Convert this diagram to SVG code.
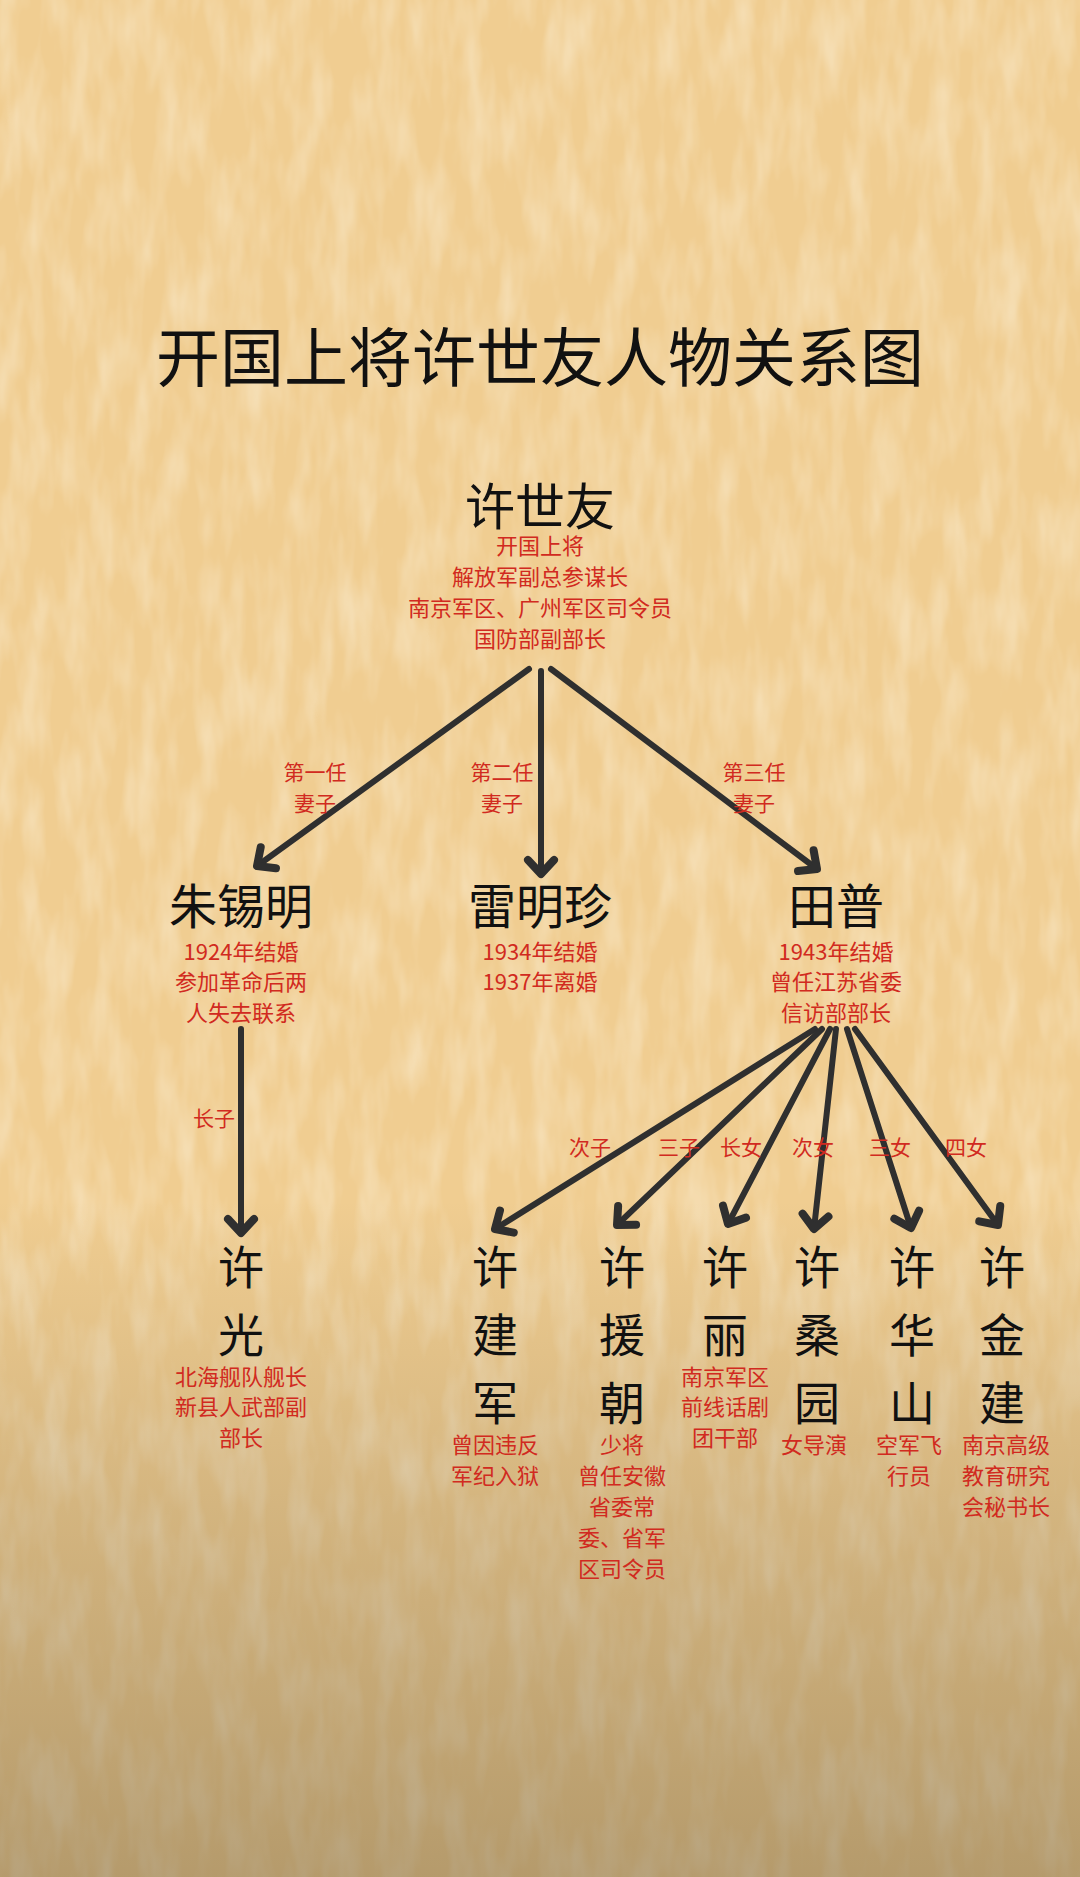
<svg xmlns="http://www.w3.org/2000/svg" width="1080" height="1877" viewBox="0 0 1080 1877">
<defs>
<style>
.title{font-family:"Noto Sans CJK SC","Noto Sans",sans-serif;font-size:64px;font-weight:400;fill:#111;text-anchor:middle}
.name{font-family:"Noto Sans CJK SC","Noto Sans",sans-serif;font-size:48px;fill:#111;text-anchor:middle}
.big{font-size:50px}
.vname{font-family:"Noto Sans CJK SC","Noto Sans",sans-serif;font-size:46px;fill:#111;text-anchor:middle}
.info{font-family:"Noto Sans CJK SC","Noto Sans",sans-serif;font-size:22px;fill:#D12A20;text-anchor:middle}
.lbl{font-family:"Noto Sans CJK SC","Noto Sans",sans-serif;font-size:21px;fill:#D12A20;text-anchor:middle}
.edge{stroke:#2f2f2f;stroke-width:6;fill:none;stroke-linecap:round;marker-end:url(#chev)}
</style>
<marker id="chev" markerUnits="userSpaceOnUse" markerWidth="34" markerHeight="34" viewBox="0 0 34 34" refX="22" refY="17" orient="auto" overflow="visible">
<path d="M8,4 L22,17 L8,30" fill="none" stroke="#2f2f2f" stroke-width="8" stroke-linecap="round" stroke-linejoin="round"/>
</marker>
<filter id="tex" x="0" y="0" width="1080" height="1877" filterUnits="userSpaceOnUse">
<feTurbulence type="fractalNoise" baseFrequency="0.045 0.012" numOctaves="3" seed="11"/>
<feColorMatrix type="matrix" values="0 0 0 0 0.96  0 0 0 0 0.85  0 0 0 0 0.65  1.0 0 0 0 -0.38"/>
</filter>
<linearGradient id="shade" gradientUnits="userSpaceOnUse" x1="0" y1="1200" x2="0" y2="1877">
<stop offset="0" stop-color="#645538" stop-opacity="0"/>
<stop offset="0.45" stop-color="#645538" stop-opacity="0.2"/>
<stop offset="1" stop-color="#645538" stop-opacity="0.42"/>
</linearGradient>
</defs>
<g id="background">
<rect x="0" y="0" width="1080" height="1877" fill="#F0CD91"/>
<rect x="0" y="0" width="1080" height="1877" filter="url(#tex)"/>
<rect x="0" y="0" width="1080" height="1877" fill="url(#shade)"/>
</g>
<text class="title" x="540" y="381">开国上将许世友人物关系图</text>
<g id="connectors">
<line class="edge" x1="529" y1="669" x2="257" y2="866"/>
<line class="edge" x1="541" y1="671" x2="541" y2="874"/>
<line class="edge" x1="551" y1="669" x2="817" y2="869"/>
<line class="edge" x1="241" y1="1029" x2="241" y2="1233"/>
<line class="edge" x1="815" y1="1029" x2="495" y2="1229"/>
<line class="edge" x1="822" y1="1029" x2="617" y2="1225"/>
<line class="edge" x1="830" y1="1029" x2="728" y2="1224"/>
<line class="edge" x1="836" y1="1029" x2="814" y2="1229"/>
<line class="edge" x1="847" y1="1029" x2="911" y2="1228"/>
<line class="edge" x1="855" y1="1029" x2="998" y2="1225"/>
<text class="lbl" x="315" y="780">第一任</text>
<text class="lbl" x="315" y="811">妻子</text>
<text class="lbl" x="502" y="780">第二任</text>
<text class="lbl" x="502" y="811">妻子</text>
<text class="lbl" x="754" y="780">第三任</text>
<text class="lbl" x="754" y="811">妻子</text>
<text class="lbl" x="214" y="1126">长子</text>
<text class="lbl" x="590" y="1155">次子</text>
<text class="lbl" x="679" y="1155">三子</text>
<text class="lbl" x="741" y="1155">长女</text>
<text class="lbl" x="813" y="1155">次女</text>
<text class="lbl" x="890" y="1155">三女</text>
<text class="lbl" x="966" y="1155">四女</text>
</g>
<g id="xu-shiyou">
<text class="name big" x="540" y="525">许世友</text>
<text class="info" x="540" y="554">开国上将</text>
<text class="info" x="540" y="585">解放军副总参谋长</text>
<text class="info" x="540" y="616">南京军区、广州军区司令员</text>
<text class="info" x="540" y="647">国防部副部长</text>
</g>
<g id="zhu-ximing">
<text class="name" x="241" y="924">朱锡明</text>
<text class="info" x="241" y="960">1924年结婚</text>
<text class="info" x="241" y="990">参加革命后两</text>
<text class="info" x="241" y="1021">人失去联系</text>
</g>
<g id="lei-mingzhen">
<text class="name" x="540" y="924">雷明珍</text>
<text class="info" x="540" y="960">1934年结婚</text>
<text class="info" x="540" y="990">1937年离婚</text>
</g>
<g id="tian-pu">
<text class="name" x="836" y="924">田普</text>
<text class="info" x="836" y="960">1943年结婚</text>
<text class="info" x="836" y="990">曾任江苏省委</text>
<text class="info" x="836" y="1021">信访部部长</text>
</g>
<g id="xu-guang">
<text class="vname" x="241" y="1284">许</text>
<text class="vname" x="241" y="1352">光</text>
<text class="info" x="241" y="1385">北海舰队舰长</text>
<text class="info" x="241" y="1415">新县人武部副</text>
<text class="info" x="241" y="1446">部长</text>
</g>
<g id="xu-jianjun">
<text class="vname" x="495" y="1284">许</text>
<text class="vname" x="495" y="1352">建</text>
<text class="vname" x="495" y="1420">军</text>
<text class="info" x="495" y="1453">曾因违反</text>
<text class="info" x="495" y="1484">军纪入狱</text>
</g>
<g id="xu-yuanchao">
<text class="vname" x="622" y="1284">许</text>
<text class="vname" x="622" y="1352">援</text>
<text class="vname" x="622" y="1420">朝</text>
<text class="info" x="622" y="1453">少将</text>
<text class="info" x="622" y="1484">曾任安徽</text>
<text class="info" x="622" y="1515">省委常</text>
<text class="info" x="622" y="1546">委、省军</text>
<text class="info" x="622" y="1577">区司令员</text>
</g>
<g id="xu-li">
<text class="vname" x="725" y="1284">许</text>
<text class="vname" x="725" y="1352">丽</text>
<text class="info" x="725" y="1385">南京军区</text>
<text class="info" x="725" y="1415">前线话剧</text>
<text class="info" x="725" y="1446">团干部</text>
</g>
<g id="xu-sangyuan">
<text class="vname" x="817" y="1284">许</text>
<text class="vname" x="817" y="1352">桑</text>
<text class="vname" x="817" y="1420">园</text>
<text class="info" x="814" y="1453">女导演</text>
</g>
<g id="xu-huashan">
<text class="vname" x="912" y="1284">许</text>
<text class="vname" x="912" y="1352">华</text>
<text class="vname" x="912" y="1420">山</text>
<text class="info" x="909" y="1453">空军飞</text>
<text class="info" x="909" y="1484">行员</text>
</g>
<g id="xu-jinjian">
<text class="vname" x="1002" y="1284">许</text>
<text class="vname" x="1002" y="1352">金</text>
<text class="vname" x="1002" y="1420">建</text>
<text class="info" x="1006" y="1453">南京高级</text>
<text class="info" x="1006" y="1484">教育研究</text>
<text class="info" x="1006" y="1515">会秘书长</text>
</g>
</svg>
